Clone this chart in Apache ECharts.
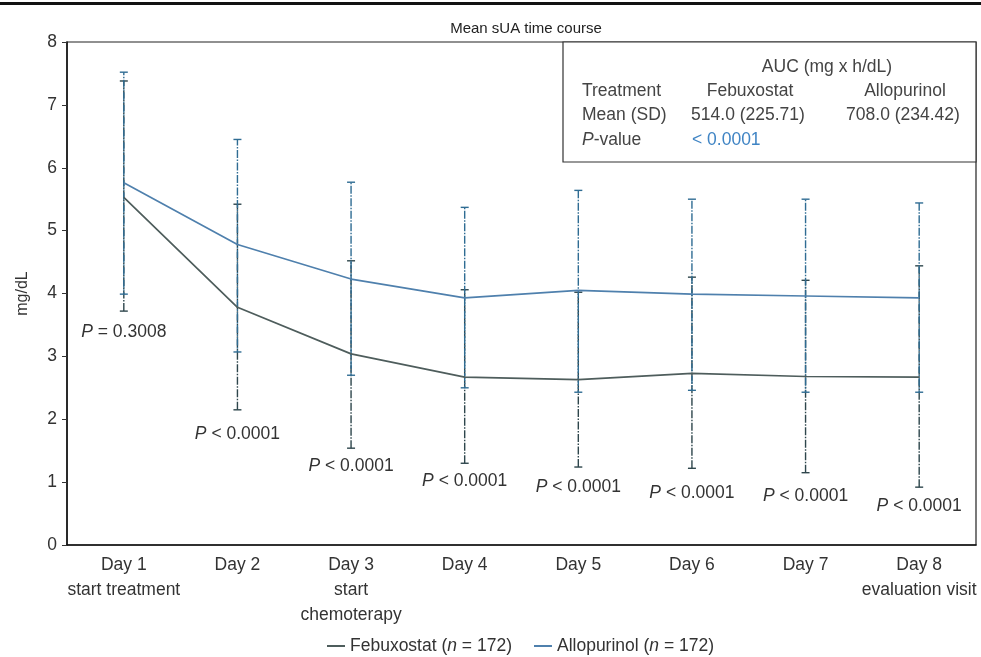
<!DOCTYPE html>
<html>
<head>
<meta charset="utf-8">
<script src="https://cdn.jsdelivr.net/npm/echarts@6/dist/echarts.min.js"></script>
<style>
html,body{margin:0;padding:0;background:#fff;}
#chart{width:981px;height:657px;}
</style>
</head>
<body>
<div id="chart"></div>
<script>
// ---------- data ----------
var categories = ['Day 1\nstart treatment', 'Day 2', 'Day 3\nstart\nchemoterapy', 'Day 4', 'Day 5', 'Day 6', 'Day 7', 'Day 8\nevaluation visit'];
var febuxMean = [5.53, 3.78, 3.04, 2.67, 2.63, 2.73, 2.68, 2.67];
var febuxHigh = [7.38, 5.42, 4.52, 4.06, 4.02, 4.26, 4.21, 4.44];
var febuxLow  = [3.72, 2.15, 1.54, 1.30, 1.24, 1.22, 1.15, 0.92];
var allopMean = [5.76, 4.78, 4.23, 3.93, 4.05, 3.99, 3.96, 3.93];
var allopHigh = [7.52, 6.45, 5.77, 5.37, 5.64, 5.50, 5.50, 5.44];
var allopLow  = [3.99, 3.07, 2.70, 2.50, 2.43, 2.46, 2.43, 2.43];
var pTexts  = ['= 0.3008', '< 0.0001', '< 0.0001', '< 0.0001', '< 0.0001', '< 0.0001', '< 0.0001', '< 0.0001'];
var pLabelY = [3.39, 1.76, 1.26, 1.02, 0.92, 0.83, 0.78, 0.62];
var yTicks = {min: 0, max: 8, interval: 1};
var aucTitle = 'AUC (mg x h/dL)';
var aucHeader = ['Treatment', 'Febuxostat', 'Allopurinol'];
var aucMean = ['Mean (SD)', '514.0 (225.71)', '708.0 (234.42)'];
var aucP = ['P-value', '< 0.0001'];

// ---------- styling ----------
var FONT = "'Liberation Sans', Arial, Helvetica, sans-serif";
var FS = 17.5;
var TXT = '#333';
var FEB_LINE = '#4e5d5c';
var ALL_LINE = '#4f80ad';
var FEB_ERR = '#2e464c';
var ALL_ERR = '#2f6c93';

function errData(lo, hi) {
  return categories.map(function (c, i) { return [i, lo[i], hi[i]]; });
}
function errRender(color, dashOffset) {
  return function (params, api) {
    var x = api.value(0);
    var lo = api.coord([x, api.value(1)]);
    var hi = api.coord([x, api.value(2)]);
    var cw = 4;
    var st = {stroke: color, lineWidth: 1.4, lineDash: [8, 1.5, 1.5, 1.5], lineDashOffset: dashOffset};
    var cap = {stroke: color, lineWidth: 1.4};
    return {
      type: 'group',
      children: [
        {type: 'line', shape: {x1: lo[0], y1: lo[1], x2: hi[0], y2: hi[1]}, style: st},
        {type: 'line', shape: {x1: lo[0] - cw, y1: lo[1], x2: lo[0] + cw, y2: lo[1]}, style: cap},
        {type: 'line', shape: {x1: hi[0] - cw, y1: hi[1], x2: hi[0] + cw, y2: hi[1]}, style: cap}
      ]
    };
  };
}

var chart = echarts.init(document.getElementById('chart'));
var tableFont = {fontFamily: FONT, fontSize: FS, fill: '#444'};
function txt(x, y, text, align, extra) {
  var st = Object.assign({}, tableFont, {text: text, textAlign: align, textVerticalAlign: 'middle'}, extra || {});
  return {type: 'text', x: x, y: y, z: 10, style: st};
}

chart.setOption({
  animation: false,
  backgroundColor: '#fff',
  title: {
    text: 'Mean sUA time course',
    left: 521, top: 16, textAlign: 'center',
    textStyle: {fontFamily: FONT, fontSize: 15, fontWeight: 'normal', color: '#222'}
  },
  grid: {left: 67, right: 5, top: 42, bottom: 112, show: true, borderColor: '#222', borderWidth: 1.2, backgroundColor: 'transparent'},
  legend: {
    left: 322, top: 632,
    itemWidth: 18, itemHeight: 2, itemGap: 22, icon: 'rect',
    data: ['Febuxostat', 'Allopurinol'],
    formatter: function (n) { return '{t|' + n + ' (}{i|n}{t| = 172)}'; },
    textStyle: {
      fontFamily: FONT, fontSize: FS, color: TXT,
      rich: {t: {fontFamily: FONT, fontSize: FS, color: TXT}, i: {fontFamily: FONT, fontSize: FS, color: TXT, fontStyle: 'italic'}}
    }
  },
  xAxis: {
    type: 'category', data: categories, boundaryGap: true,
    axisLine: {lineStyle: {color: '#111', width: 1.5}},
    axisTick: {show: false},
    axisLabel: {color: TXT, fontFamily: FONT, fontSize: FS, lineHeight: 25, margin: 8, interval: 0}
  },
  yAxis: {
    type: 'value', min: yTicks.min, max: yTicks.max, interval: yTicks.interval,
    name: 'mg/dL', nameLocation: 'middle', nameGap: 36,
    nameTextStyle: {color: TXT, fontFamily: FONT, fontSize: 16},
    axisLine: {show: true, lineStyle: {color: '#111', width: 1.5}},
    axisTick: {show: true, length: 5, lineStyle: {color: '#333'}},
    splitLine: {show: false},
    axisLabel: {color: TXT, fontFamily: FONT, fontSize: FS, margin: 10}
  },
  series: [
    {name: 'FebErr', type: 'custom', data: errData(febuxLow, febuxHigh), renderItem: errRender(FEB_ERR, 0), z: 2, silent: true},
    {name: 'AllErr', type: 'custom', data: errData(allopLow, allopHigh), renderItem: errRender(ALL_ERR, 6), z: 2, silent: true},
    {name: 'Febuxostat', type: 'line', data: febuxMean, symbol: 'none', lineStyle: {color: FEB_LINE, width: 1.7}, itemStyle: {color: FEB_LINE}, z: 3},
    {name: 'Allopurinol', type: 'line', data: allopMean, symbol: 'none', lineStyle: {color: ALL_LINE, width: 1.7}, itemStyle: {color: ALL_LINE}, z: 3},
    {
      name: 'pLabels', type: 'custom', silent: true, z: 4,
      data: categories.map(function (c, i) { return [i, pLabelY[i], i]; }),
      renderItem: function (params, api) {
        var p = api.coord([api.value(0), api.value(1)]);
        var i = api.value(2);
        return {
          type: 'text', x: p[0], y: p[1],
          style: {
            text: '{i|P}{t| ' + pTexts[i] + '}',
            textAlign: 'center', textVerticalAlign: 'middle',
            fontFamily: FONT, fontSize: FS, fill: TXT,
            rich: {i: {fontStyle: 'italic', fontFamily: FONT, fontSize: FS, fill: TXT}, t: {fontFamily: FONT, fontSize: FS, fill: TXT}}
          }
        };
      }
    }
  ],
  graphic: [
    {type: 'rect', shape: {x: 0, y: 2, width: 981, height: 3}, style: {fill: '#111'}, z: 10},
    {type: 'rect', shape: {x: 563, y: 42, width: 413, height: 120}, style: {fill: '#fff', stroke: '#333', lineWidth: 1.2}, z: 9},
    txt(827, 67, aucTitle, 'center'),
    txt(582, 91, aucHeader[0], 'left'),
    txt(750, 91, aucHeader[1], 'center'),
    txt(905, 91, aucHeader[2], 'center'),
    txt(582, 115, aucMean[0], 'left'),
    txt(748, 115, aucMean[1], 'center'),
    txt(903, 115, aucMean[2], 'center'),
    txt(582, 140, '{i|P}-value', 'left', {rich: {i: {fontStyle: 'italic', fontFamily: FONT, fontSize: FS, fill: '#444'}}}),
    txt(692, 140, aucP[1], 'left', {fill: '#3f84c4'})
  ]
});
</script>
</body>
</html>
